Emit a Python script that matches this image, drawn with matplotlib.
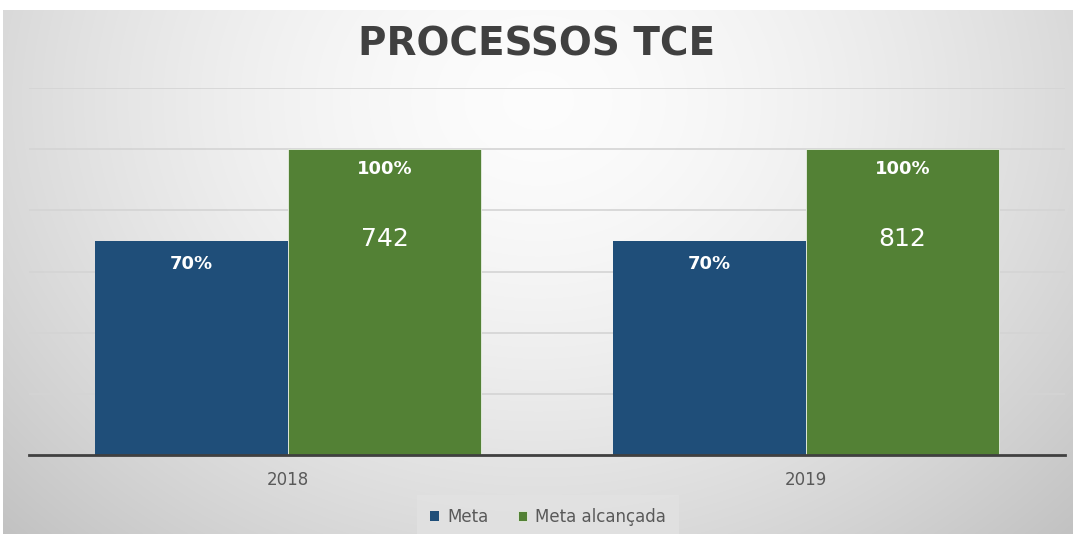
import matplotlib.pyplot as plt
import numpy as np

# Chart data
years = ['2018', '2019']
meta = [70, 70]
meta_alcancada = [100, 100]
processos = [742, 812]

plt.rcParams['font.family'] = ['DejaVu Sans']

fig = plt.figure(figsize=(10.74, 5.34), dpi=100)
fig.patch.set_facecolor('white')

# Radial gradient background (light centre near the top, grey edges)
bg = fig.add_axes([3 / 1074, 0, 1 - 4 / 1074, 1 - 10 / 534], zorder=0)
h, w = 524, 1070
yy, xx = np.mgrid[0:h, 0:w]
d = np.sqrt(((xx - w / 2) / (w * 0.62)) ** 2 + ((yy - 90) / (h * 1.05)) ** 2)
shade = 0.99 - 0.19 * np.clip(d, 0, 1.2) ** 1.6
bg.imshow(np.dstack([shade] * 3), aspect='auto', extent=[0, 1, 0, 1])
bg.axis('off')

ax = fig.add_axes([29 / 1074, (534 - 455) / 534, (1065 - 29) / 1074, (455 - 88) / 534], zorder=1)
ax.patch.set_alpha(0)

x = np.arange(len(years))
width = 0.373
bars1 = ax.bar(x - width / 2, meta, width, color='#1f4e79', label='Meta', zorder=3)
bars2 = ax.bar(x + width / 2, meta_alcancada, width, color='#538135', label='Meta alcançada',
               edgecolor='#e8efe4', linewidth=0.6, zorder=3)

ax.set_xlim(-0.5, 1.5)
ax.set_ylim(0, 120)
ax.set_yticks(range(0, 121, 20))
ax.yaxis.grid(True, color='#d4d4d4', linewidth=1.2, zorder=0)
ax.tick_params(axis='y', left=False, labelleft=False)
ax.tick_params(axis='x', bottom=False, labelsize=12, labelcolor='#595959', pad=8)
ax.set_xticks(x)
ax.set_xticklabels(years)
for side in ['top', 'right', 'left']:
    ax.spines[side].set_visible(False)
ax.spines['bottom'].set_color('#404040')
ax.spines['bottom'].set_linewidth(2)
ax.spines['bottom'].set_zorder(4)

# Labels on the bars
for bar, v in zip(bars1, meta):
    ax.text(bar.get_x() + bar.get_width() / 2, v - 7.5, f'{v}%', ha='center', va='center',
            color='white', fontsize=13, fontweight='bold', zorder=5)
for bar, v, n in zip(bars2, meta_alcancada, processos):
    cx = bar.get_x() + bar.get_width() / 2
    ax.text(cx, v - 6.5, f'{v}%', ha='center', va='center',
            color='white', fontsize=13, fontweight='bold', zorder=5)
    ax.text(cx, v - 29.5, f'{n}', ha='center', va='center',
            color='white', fontsize=18, zorder=5)

fig.text(0.5, 1 - 45 / 534, 'PROCESSOS TCE', ha='center', va='center',
         fontsize=28, fontweight='bold', color='#404040')

leg = fig.legend(loc='center', bbox_to_anchor=(548 / 1074, 1 - 517 / 534), ncol=2,
                 frameon=True, fontsize=12, handlelength=0.5, handleheight=0.5,
                 handletextpad=0.5, columnspacing=1.8, borderpad=0.8)
leg.get_frame().set_facecolor('#e2e2e2')
leg.get_frame().set_edgecolor('none')
leg.get_frame().set_boxstyle('square', pad=0)
for t in leg.get_texts():
    t.set_color('#595959')

fig.savefig('out.png', dpi=100)
